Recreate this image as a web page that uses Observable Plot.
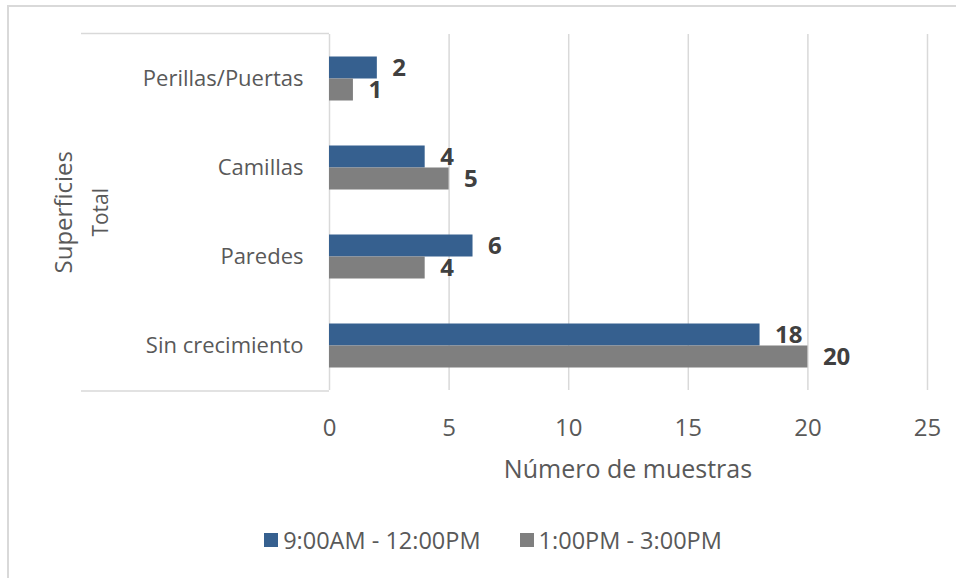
<!DOCTYPE html>
<html>
<head>
<meta charset="utf-8">
<script src="https://cdn.jsdelivr.net/npm/d3@7"></script>
<script src="https://cdn.jsdelivr.net/npm/@observablehq/plot@0.6"></script>
<style>
  body { margin: 0; background: #fff; font-family: "Open Sans", sans-serif; }
  #wrap { position: relative; width: 956px; height: 578px; overflow: hidden; }
  #edge { position: absolute; left: 7px; top: 5px; right: 0; bottom: 0;
          border-left: 2px solid #d9d9d9; border-top: 2px solid #d9d9d9; }
  #plot { position: absolute; left: 0; top: 0; }
  #legend { position: absolute; left: 15px; top: 524px; width: 956px; display: flex;
            justify-content: center; gap: 39px; font-size: 23.5px; color: #595959; }
  #legend .item { display: flex; align-items: center; gap: 5px; }
  #legend .sw { width: 14px; height: 14px; display: inline-block; }
</style>
</head>
<body>
<div id="wrap">
  <div id="edge"></div>
  <div id="plot"></div>
  <div id="legend"></div>
</div>
<script>
// Surfaces sampled and number of samples per time window
const categories = ["Perillas/Puertas", "Camillas", "Paredes", "Sin crecimiento"];
const series = ["9:00AM - 12:00PM", "1:00PM - 3:00PM"];
const morning = [2, 4, 6, 18];
const afternoon = [1, 5, 4, 20];
const xTicks = [0, 5, 10, 15, 20, 25];
const colors = ["#36608f", "#7f7f7f"];
const xTitle = "Número de muestras";
const yTitle = "Superficies";
const groupLabel = "Total";

const rows = categories.flatMap((c, i) => [
  {category: c, series: series[0], value: morning[i]},
  {category: c, series: series[1], value: afternoon[i]}
]);

const W = 956, H = 500;
const plot = Plot.plot({
  width: W, height: H,
  marginTop: 33.5, marginBottom: 109, marginLeft: 329, marginRight: 29,
  style: {fontFamily: "'Open Sans', sans-serif", fontSize: "20px", color: "#595959", background: "transparent", overflow: "visible"},
  x: {domain: [0, 25], label: null, axis: null},
  fy: {domain: categories, padding: 0, label: null, axis: null},
  y: {domain: series, paddingInner: 0, paddingOuter: 0.94, axis: null},
  color: {domain: series, range: colors},
  marks: [
    Plot.gridX(xTicks, {stroke: "#d9d9d9", strokeOpacity: 1, strokeWidth: 1.5}),
    Plot.axisX(xTicks, {tickSize: 0, tickPadding: 28, fontSize: 24, fill: "#595959", label: null}),
    Plot.axisFy({anchor: "left", tickSize: 0, tickPadding: 26, fontSize: 22, fill: "#595959", label: null}),
    Plot.barX(rows, {x: "value", y: "series", fy: "category", fill: "series"}),
    Plot.text(rows, {
      x: "value", y: "series", fy: "category", text: d => String(d.value),
      dx: 15, textAnchor: "start", fontWeight: "bold", fontSize: 24, fill: "#404040"
    })
  ]
});
document.getElementById("plot").append(plot);

// Category box, axis titles and group label, placed from the scales
const svg = d3.select(plot);
const xs = plot.scale("x");
const fyr = plot.scale("fy").range;
const x0 = xs.apply(0);
const yTop = Math.min(...fyr), yBottom = Math.max(...fyr);
const boxLeft = 81;
const g = svg.append("g").attr("stroke", "#d9d9d9").attr("stroke-width", 1.5);
g.append("line").attr("x1", boxLeft).attr("x2", x0).attr("y1", yTop).attr("y2", yTop);
g.append("line").attr("x1", boxLeft).attr("x2", x0).attr("y1", yBottom).attr("y2", yBottom);

const mid = (yTop + yBottom) / 2;
svg.append("text").attr("transform", `translate(72,${mid}) rotate(-90)`)
  .attr("text-anchor", "middle").attr("font-size", 24).attr("fill", "#595959").text(yTitle);
svg.append("text").attr("transform", `translate(108,${mid}) rotate(-90)`)
  .attr("text-anchor", "middle").attr("font-size", 21).attr("fill", "#595959").text(groupLabel);
svg.append("text").attr("x", (xs.apply(0) + xs.apply(25)) / 2).attr("y", yBottom + 87)
  .attr("text-anchor", "middle").attr("font-size", 25).attr("fill", "#595959").text(xTitle);

// Legend
const legend = d3.select("#legend");
series.forEach((s, i) => {
  const item = legend.append("div").attr("class", "item");
  item.append("span").attr("class", "sw").style("background", colors[i]);
  item.append("span").text(s);
});
</script>
</body>
</html>
